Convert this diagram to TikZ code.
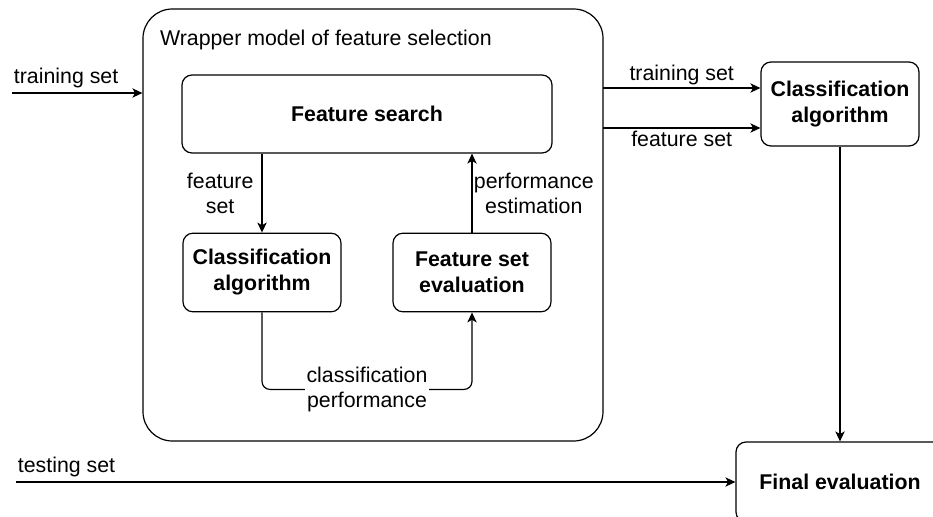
\documentclass[tikz,border=0pt]{standalone}
\usepackage{fontspec}
\setmainfont{Liberation Sans}
\usetikzlibrary{arrows.meta,positioning}

\begin{document}
\begin{tikzpicture}[x=0.75pt, y=-0.75pt, line width=0.9pt, >={Stealth[length=7.5pt,width=7pt,inset=2pt]}, font=\fontsize{16}{19}\selectfont]


\tikzstyle{box} = [
    rectangle, rounded corners=7.5pt, draw=black, align=center, inner sep=0pt, font=\fontsize{16}{19.5}\selectfont\bfseries]
\tikzstyle{outer} = [
    rectangle, rounded corners=22pt, draw=black, minimum width=345pt, minimum height=324pt]
\tikzstyle{lbl} = [align=center, inner sep=2pt]

\useasboundingbox (0,0) rectangle (933,517);


\node[outer] at (373,225) (wrapper) {};

\node[anchor=west] at (155,40) (wraptitle) {Wrapper model of feature selection};

\node[box, minimum width=277.5pt, minimum height=58.5pt] at (367,114) (search) {Feature search};

\node[box, minimum width=118.5pt, minimum height=59pt] at (262,272.5) (classinner) {Classification\\algorithm};

\node[box, minimum width=118.5pt, minimum height=59pt] at (472,272.5) (evaluation) {Feature set\\evaluation};

\node[box, minimum width=118.5pt, minimum height=63pt] at (840,104) (classouter) {Classification\\algorithm};

\node[box, minimum width=156pt, minimum height=60pt] at (840,482) (final) {Final evaluation};


\coordinate (trainin) at (12,93);
\coordinate (testin) at (16,482);
\coordinate (trainout) at (603,88);
\coordinate (featout) at (603,128);


\draw[->] (trainin) -- (trainin -| wrapper.west)
  node[pos=0, above right, inner sep=1pt, yshift=2pt] {training set};

\draw[->] (testin) -- (final.west)
  node[pos=0, above right, inner sep=1pt, yshift=2pt] {testing set};

\draw[->] (trainout) -- (trainout -| classouter.west) node[midway, above, lbl] {training set};
\draw[->] (featout) -- (featout -| classouter.west) node[midway, below, lbl] {feature set};

\draw[->] (classouter) -- (final);

\draw[->] (search.south -| classinner) -- (classinner)
  node[midway, left, lbl, inner sep=6pt] {feature\\set};

\draw[->] (evaluation) -- (evaluation |- search.south)
  node[midway, right, lbl, inner sep=1pt] {performance\\estimation};

\draw[->, rounded corners=6pt] (classinner.south) -- ++(0,77) -| (evaluation.south);

\node[lbl, fill=white, inner sep=1pt] at (367,389.5) (perflabel) {classification\\performance};


\end{tikzpicture}
\end{document}
